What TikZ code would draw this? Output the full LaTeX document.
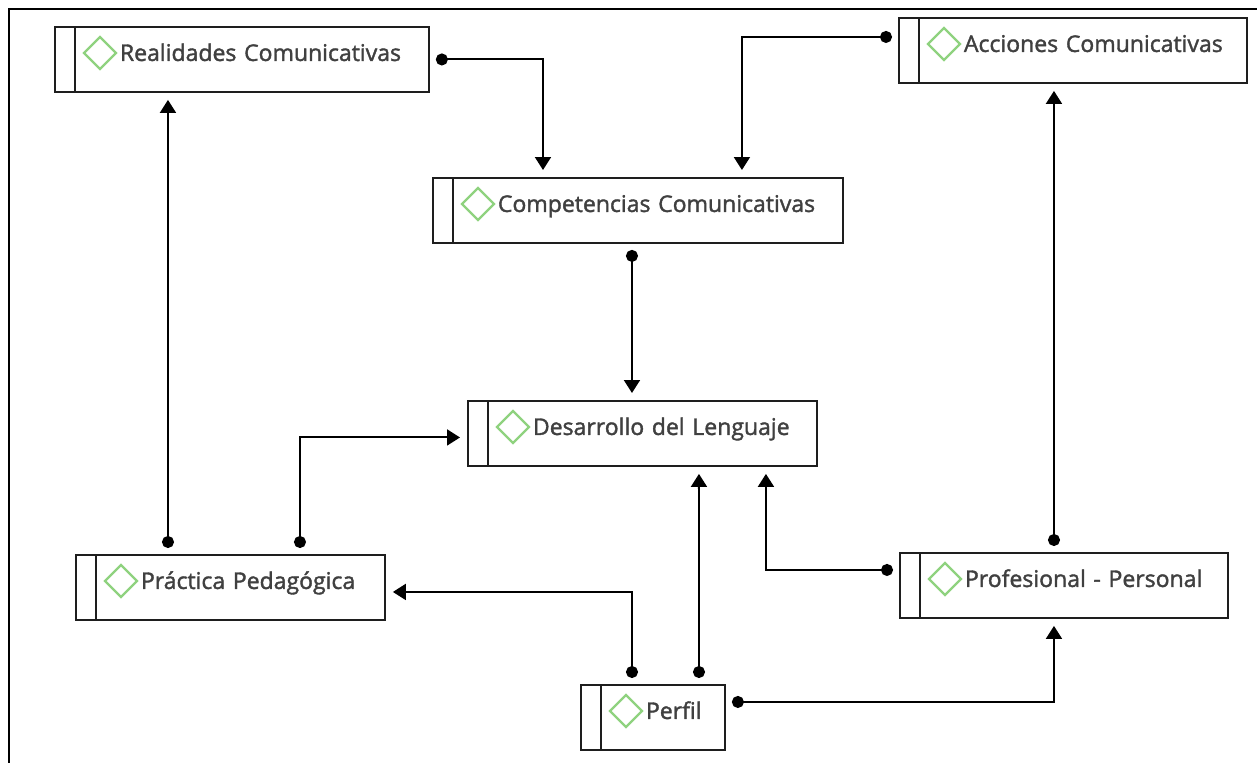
\documentclass[tikz,border=0pt]{standalone}
\usepackage{fontspec}
\setmainfont{Open Sans}[UprightFeatures={FakeBold=1.6}]
\usetikzlibrary{arrows.meta}
\definecolor{gris}{HTML}{404040}
\definecolor{verde}{HTML}{8FD27F}
\definecolor{borde}{HTML}{1E1E1E}
\tikzstyle{caja} = [draw=borde, line width=1.1pt, rectangle, anchor=north west, inner sep=0pt, text height=0.68cm, text depth=0.62cm, align=left, text=gris, font=\fontsize{13.1}{15}\selectfont, execute at begin node={\hspace*{1.3cm}}, path picture={
	\draw[borde, line width=1.1pt] ([xshift=0.4cm]path picture bounding box.north west) -- ([xshift=0.4cm]path picture bounding box.south west);
	\draw[verde, line width=1.3pt] ([xshift=0.58cm, yshift=-0.52cm]path picture bounding box.north west) -- ++(0.32cm,0.32cm) -- ++(0.32cm,-0.32cm) -- ++(-0.32cm,-0.32cm) -- cycle;}]
\tikzstyle{flecha} = [line width=1.1pt, draw=black, {Circle[length=0.24cm]}-{Triangle[length=0.26cm, width=0.32cm]}, shorten <=0.12cm, shorten >=0.14cm]
\begin{document}
\begin{tikzpicture}[x=0.02cm, y=-0.02cm]
	\useasboundingbox (0,0) rectangle (1257,763);
	\draw[line width=1.1pt] (1257,9) -- (9,9) -- (9,763);

	\node[caja, text width=7.48cm](realidades) at (54,26) {Realidades Comunicativas};
	\node[caja, text width=6.96cm](acciones) at (898,17) {Acciones Comunicativas};
	\node[caja, text width=8.2cm](competencias) at (432,177) {Competencias Comunicativas};
	\node[caja, text width=6.98cm](desarrollo) at (467,400) {Desarrollo del Lenguaje};
	\node[caja, text width=6.18cm](practica) at (75,554) {Práctica Pedagógica};
	\node[caja, text width=6.56cm](profesional) at (899,552) {Profesional - Personal};
	\node[caja, text width=2.88cm](perfil) at (580,684) {Perfil};

	\draw[flecha] (realidades.east) -| ([xshift=2.22cm]competencias.north west);
	\draw[flecha] ([yshift=0.27cm]acciones.west) -| ([xshift=6.2cm]competencias.north west);
	\draw[flecha] ([xshift=4cm]competencias.south west) -- ([xshift=3.3cm]desarrollo.north west);
	\draw[flecha] ([xshift=4.5cm]practica.north west) |- ([yshift=-0.08cm]desarrollo.west);
	\draw[flecha] ([xshift=1.86cm]practica.north west) -- ([xshift=2.28cm]realidades.south west);
	\draw[flecha] ([xshift=1.04cm]perfil.north west) |- ([yshift=-0.09cm]practica.east);
	\draw[flecha] ([xshift=2.38cm]perfil.north west) -- ([xshift=4.64cm]desarrollo.south west);
	\draw[flecha] ([yshift=0.31cm]perfil.east) -| ([xshift=3.1cm]profesional.south west);
	\draw[flecha] ([yshift=0.31cm]profesional.west) -| ([xshift=5.98cm]desarrollo.south west);
	\draw[flecha] ([xshift=3.1cm]profesional.north west) -- ([xshift=3.12cm]acciones.south west);
\end{tikzpicture}
\end{document}
